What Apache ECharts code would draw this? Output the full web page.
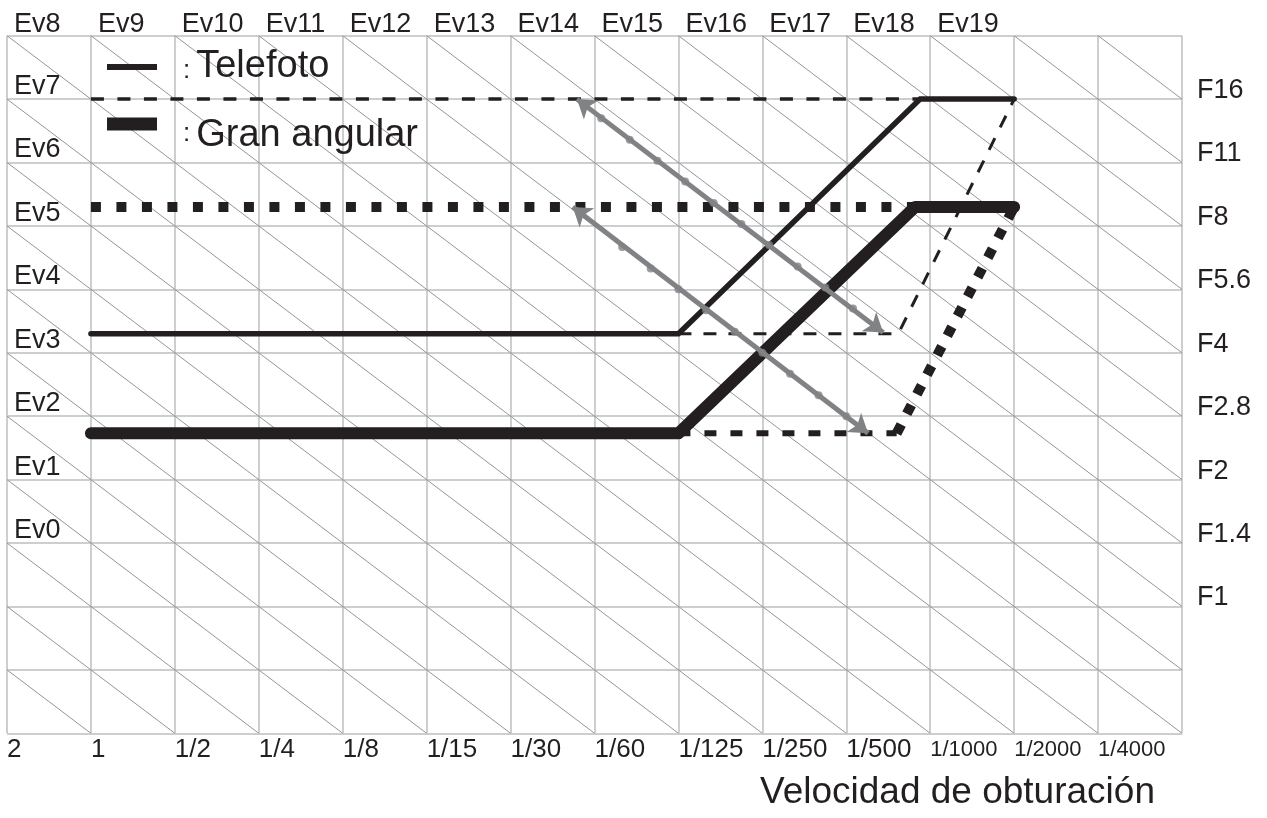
<!DOCTYPE html>
<html>
<head>
<meta charset="utf-8">
<title>Programa de exposición</title>
<script src="https://cdn.jsdelivr.net/npm/echarts@6.0.0/dist/echarts.min.js"></script>
<style>
  html, body { margin: 0; padding: 0; background: #fff; }
  #chart { width: 1267px; height: 818px; }
</style>
</head>
<body>
<div id="chart"></div>
<script>
// etiquetas, una por cada línea de la rejilla
const shutterLabels = ['2', '1', '1/2', '1/4', '1/8', '1/15', '1/30', '1/60', '1/125', '1/250', '1/500', '1/1000', '1/2000', '1/4000', ''];
const topEvLabels = ['Ev8', 'Ev9', 'Ev10', 'Ev11', 'Ev12', 'Ev13', 'Ev14', 'Ev15', 'Ev16', 'Ev17', 'Ev18', 'Ev19', '', '', ''];
const leftEvLabels = ['', '', '', 'Ev0', 'Ev1', 'Ev2', 'Ev3', 'Ev4', 'Ev5', 'Ev6', 'Ev7', ''];
const fLabels = ['', '', 'F1', 'F1.4', 'F2', 'F2.8', 'F4', 'F5.6', 'F8', 'F11', 'F16', ''];

// líneas de Ev constante (x + y = k)
const evDiagonals = [1, 2, 3, 4, 5, 6, 7, 8, 9, 10, 11, 12, 13, 14, 15, 16, 17, 18, 19, 20, 21, 22, 23, 24];

// [velocidad (paso), diafragma (paso)]
const teleSolid = [[1, 6.3], [8, 6.3], [10.88, 10], [12, 10]];
const teleDashTop = [[1, 10], [10.88, 10]];
const teleDashLow = [[8, 6.3], [10.62, 6.3], [12, 10]];
const wideSolid = [[1, 4.73], [8, 4.73], [10.82, 8.3], [12, 8.3]];
const wideDotTop = [[1, 8.3], [10.82, 8.3]];
const wideDotLow = [[8, 4.73], [10.6, 4.73]];
const wideDotRise = [[10.6, 4.73], [12, 8.3]];

// flechas de cambio de programa
const shiftArrowTele = [[6.79, 10], [10.44, 6.32]];
const shiftArrowWide = [[6.74, 8.3], [10.26, 4.73]];
const shiftDotsTele = [[7.08, 9.7], [7.42, 9.36], [7.75, 9.03], [8.08, 8.7], [8.42, 8.36], [8.75, 8.03], [9.08, 7.7], [9.42, 7.36], [9.75, 7.03], [10.08, 6.7]];
const shiftDotsWide = [[7.33, 7.67], [7.67, 7.33], [8.0, 7.0], [8.33, 6.67], [8.67, 6.33], [9.0, 6.0], [9.33, 5.67], [9.67, 5.33], [10.0, 5.0]];

const INK = '#231f20';
const GRAY = '#808285';
const FONT = '"Liberation Sans", Arial, sans-serif';

const chart = echarts.init(document.getElementById('chart'));

function legendRich(textPadTop, colonPadBottom) {
  return {
    c: { fontSize: 26, fontFamily: FONT, color: INK, verticalAlign: 'bottom', padding: [0, 6, colonPadBottom, 21] },
    t: { fontSize: 38, fontFamily: FONT, color: INK, verticalAlign: 'bottom', padding: [textPadTop, 0, 0, 0] }
  };
}

const option = {
  animation: false,
  backgroundColor: '#fff',
  textStyle: { fontFamily: FONT, color: INK },
  title: {
    text: 'Velocidad de obturación',
    left: 760,
    top: 774,
    padding: 0,
    textStyle: { fontFamily: FONT, fontSize: 37, fontWeight: 'normal', color: INK }
  },
  legend: [
    {
      data: [{ name: 'Telefoto', icon: 'rect' }],
      left: 107, top: 48, padding: 0,
      itemWidth: 50, itemHeight: 6,
      selectedMode: false,
      formatter: name => '{c|:}{t|' + name + '}',
      textStyle: { color: INK, rich: legendRich(0, 2) }
    },
    {
      data: [{ name: 'Gran angular', icon: 'rect' }],
      left: 107, top: 117, padding: 0,
      itemWidth: 50, itemHeight: 13,
      selectedMode: false,
      formatter: name => '{c|:}{t|' + name + '}',
      textStyle: { color: INK, rich: legendRich(24, 8) }
    }
  ],
  grid: { left: 7, right: 85, top: 35.7, bottom: 84.7, outerBoundsMode: 'none' },
  xAxis: [
    {
      type: 'value', position: 'bottom', min: 0, max: 14, interval: 1,
      axisLine: { show: false }, axisTick: { show: false },
      splitLine: { show: true, lineStyle: { color: '#bcbec0', width: 1.5 } },
      axisLabel: {
        show: true, showMinLabel: true, showMaxLabel: true,
        align: 'left', verticalAlign: 'top', margin: 4,
        fontSize: 26, color: INK, fontFamily: FONT,
        formatter: v => {
          const s = shutterLabels[Math.round(v)] || '';
          return s.length > 5 ? '{n|' + s + '}' : s;
        },
        rich: { n: { fontSize: 22, fontFamily: FONT, color: INK, padding: [2, 0, 0, 0] } }
      }
    },
    {
      type: 'value', position: 'top', min: 0, max: 14, interval: 1,
      axisLine: { show: false }, axisTick: { show: false }, splitLine: { show: false },
      axisLabel: {
        show: true, showMinLabel: true, showMaxLabel: true,
        align: 'left', verticalAlign: 'bottom', margin: -1, lineHeight: 25,
        padding: [0, 0, 0, 7],
        fontSize: 27, color: INK, fontFamily: FONT,
        formatter: v => topEvLabels[Math.round(v)] || ''
      }
    }
  ],
  yAxis: [
    {
      type: 'value', position: 'left', min: 0, max: 11, interval: 1,
      axisLine: { show: false }, axisTick: { show: false },
      splitLine: { show: true, lineStyle: { color: '#bcbec0', width: 1.5 } },
      axisLabel: {
        show: true, inside: true, showMinLabel: true, showMaxLabel: true,
        align: 'left', verticalAlign: 'bottom', margin: 7, lineHeight: 25,
        fontSize: 27, color: INK, fontFamily: FONT,
        formatter: v => leftEvLabels[Math.round(v)] || ''
      }
    },
    {
      type: 'value', position: 'right', min: 0, max: 11, interval: 1,
      axisLine: { show: false }, axisTick: { show: false }, splitLine: { show: false },
      axisLabel: {
        show: true, showMinLabel: true, showMaxLabel: true,
        align: 'left', verticalAlign: 'bottom', margin: 15, lineHeight: 17,
        fontSize: 27, color: INK, fontFamily: FONT,
        formatter: v => fLabels[Math.round(v)] || ''
      }
    }
  ],
  series: [
    {
      name: 'ev', type: 'lines', coordinateSystem: 'cartesian2d', silent: true, z: 1,
      symbol: 'none',
      lineStyle: { color: '#939598', width: 1, opacity: 1 },
      data: evDiagonals.map(k => {
        const c0 = Math.max(0, k - 11), c1 = Math.min(14, k);
        return { coords: [[c0, k - c0], [c1, k - c1]] };
      })
    },
    {
      name: 'Telefoto', type: 'line', data: teleSolid, symbol: 'none', z: 5,
      itemStyle: { color: INK },
      lineStyle: { color: INK, width: 5.5, cap: 'round', join: 'miter' }
    },
    {
      name: 'tele-dash-top', type: 'line', data: teleDashTop, symbol: 'none', z: 4,
      lineStyle: { color: INK, width: 3.5, type: [13, 13.5] }
    },
    {
      name: 'tele-dash-low', type: 'line', data: teleDashLow, symbol: 'none', z: 4,
      lineStyle: { color: INK, width: 3, type: [13, 12] }
    },
    {
      name: 'Gran angular', type: 'line', data: wideSolid, symbol: 'none', z: 5,
      itemStyle: { color: INK },
      lineStyle: { color: INK, width: 12, cap: 'round', join: 'round' }
    },
    {
      name: 'wide-dot-top', type: 'line', data: wideDotTop, symbol: 'none', z: 4,
      lineStyle: { color: INK, width: 10, type: [10, 15.5] }
    },
    {
      name: 'wide-dot-low', type: 'line', data: wideDotLow, symbol: 'none', z: 4,
      lineStyle: { color: INK, width: 6, type: [12, 14] }
    },
    {
      name: 'wide-dot-rise', type: 'line', data: wideDotRise, symbol: 'none', z: 4,
      lineStyle: { color: INK, width: 10, type: [10, 12] }
    },
    {
      name: 'shift', type: 'lines', coordinateSystem: 'cartesian2d', silent: true, z: 8,
      symbol: ['arrow', 'arrow'], symbolSize: 18,
      lineStyle: { color: GRAY, width: 5, opacity: 1 },
      data: [{ coords: shiftArrowTele }, { coords: shiftArrowWide }]
    },
    {
      name: 'shift-dots', type: 'scatter', silent: true, z: 9,
      symbol: 'circle', symbolSize: 8,
      itemStyle: { color: GRAY },
      data: shiftDotsTele.concat(shiftDotsWide)
    }
  ]
};

chart.setOption(option);
</script>
</body>
</html>
